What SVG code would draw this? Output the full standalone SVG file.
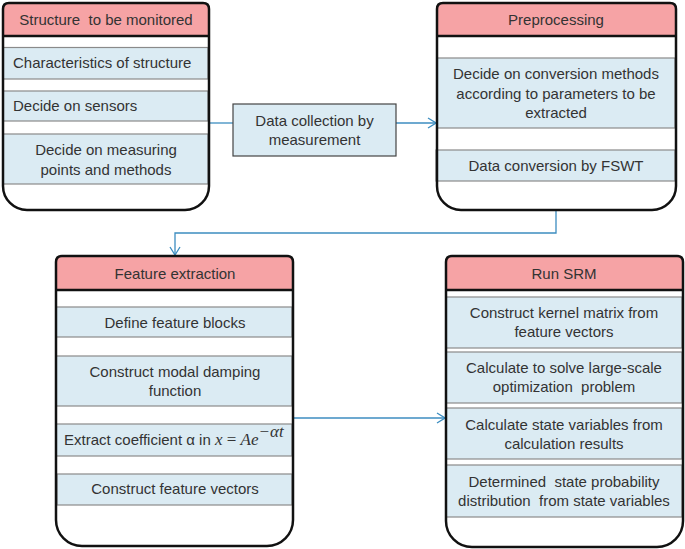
<svg xmlns="http://www.w3.org/2000/svg" width="685" height="549" viewBox="0 0 685 549">
<defs>
<style>
text{font-family:"Liberation Sans",Arial,sans-serif;font-size:15px;fill:#333;}
.c{text-anchor:middle;}
.outline{fill:none;stroke:#111;stroke-width:2.5;}
.bg{fill:#fff;}
.hdr{fill:#F6A3A5;}
.hline{stroke:#111;stroke-width:2.5;}
.row{fill:#DBEBF3;stroke:#8a8a8a;stroke-width:1.2;}
.box{fill:#DBEBF3;stroke:#444;stroke-width:1.2;}
.conn{fill:none;stroke:#3C8DC0;stroke-width:1.3;}
.math{font-family:"Liberation Serif","Times New Roman",serif;font-style:italic;font-size:17px;}
</style>
<marker id="arr" markerWidth="10" markerHeight="12" refX="9" refY="6" orient="auto" markerUnits="userSpaceOnUse">
<path d="M1,1 L9,6 L1,11" fill="none" stroke="#3C8DC0" stroke-width="1.3"/>
</marker>
</defs>

<g id="connectors">
<path class="conn" d="M209,123 H233"/>
<path class="conn" d="M396,123 H436" marker-end="url(#arr)"/>
<path class="conn" d="M556,210 V233 H175 V255" marker-end="url(#arr)"/>
<path class="conn" d="M293,418 H445" marker-end="url(#arr)"/>
</g>

<g id="node-structure">
<path class="bg" d="M3,9 Q3,3 9,3 H203 Q209,3 209,9 V186 A24,24 0 0 1 185,210 H27 A24,24 0 0 1 3,186 Z"/>
<path class="hdr" d="M3,36 V9 Q3,3 9,3 H203 Q209,3 209,9 V36 Z"/>
<line class="hline" x1="3" y1="36" x2="209" y2="36"/>
<rect class="row" x="3" y="47.5" width="205" height="31.5"/>
<rect class="row" x="3" y="91" width="205" height="30"/>
<rect class="row" x="3" y="134" width="205" height="50"/>
<path class="outline" d="M3,9 Q3,3 9,3 H203 Q209,3 209,9 V186 A24,24 0 0 1 185,210 H27 A24,24 0 0 1 3,186 Z"/>
<text class="c" x="106" y="25" xml:space="preserve">Structure  to be monitored</text>
<text x="13" y="68">Characteristics of structure</text>
<text x="13" y="111">Decide on sensors</text>
<text class="c" x="106" y="155">Decide on measuring</text>
<text class="c" x="106" y="175">points and methods</text>
</g>

<g id="node-datacollection">
<rect class="box" x="233" y="104" width="163" height="52"/>
<text class="c" x="314.5" y="126">Data collection by</text>
<text class="c" x="314.5" y="145">measurement</text>
</g>

<g id="node-preprocessing">
<path class="bg" d="M437,9 Q437,3 443,3 H670 Q676,3 676,9 V186 A24,24 0 0 1 652,210 H461 A24,24 0 0 1 437,186 Z"/>
<path class="hdr" d="M437,36 V9 Q437,3 443,3 H670 Q676,3 676,9 V36 Z"/>
<line class="hline" x1="437" y1="36" x2="676" y2="36"/>
<rect class="row" x="437" y="58" width="238" height="70"/>
<rect class="row" x="436" y="150" width="239" height="31"/>
<path class="outline" d="M437,9 Q437,3 443,3 H670 Q676,3 676,9 V186 A24,24 0 0 1 652,210 H461 A24,24 0 0 1 437,186 Z"/>
<text class="c" x="556" y="25">Preprocessing</text>
<text class="c" x="556" y="79">Decide on conversion methods</text>
<text class="c" x="556" y="99">according to parameters to be</text>
<text class="c" x="556" y="118">extracted</text>
<text class="c" x="556" y="171">Data conversion by FSWT</text>
</g>

<g id="node-feature">
<path class="bg" d="M56,262 Q56,256 62,256 H287 Q293,256 293,262 V520 A26,26 0 0 1 267,546 H82 A26,26 0 0 1 56,520 Z"/>
<path class="hdr" d="M56,290 V262 Q56,256 62,256 H287 Q293,256 293,262 V290 Z"/>
<line class="hline" x1="56" y1="290" x2="293" y2="290"/>
<rect class="row" x="56" y="307" width="236" height="30"/>
<rect class="row" x="56" y="356" width="236" height="50"/>
<rect class="row" x="56" y="424" width="236" height="32"/>
<rect class="row" x="57" y="474" width="235" height="31"/>
<path class="outline" d="M56,262 Q56,256 62,256 H287 Q293,256 293,262 V520 A26,26 0 0 1 267,546 H82 A26,26 0 0 1 56,520 Z"/>
<text class="c" x="175" y="279">Feature extraction</text>
<text class="c" x="175" y="328">Define feature blocks</text>
<text class="c" x="175" y="377">Construct modal damping</text>
<text class="c" x="175" y="396">function</text>
<text x="64" y="445">Extract coefficient α in <tspan class="math">x</tspan><tspan font-family="Liberation Serif,serif" font-size="17px"> = </tspan><tspan class="math">Ae</tspan><tspan class="math" font-size="10px" dy="-8">−αt</tspan></text>
<text class="c" x="175" y="494">Construct feature vectors</text>
</g>

<g id="node-srm">
<path class="bg" d="M446,262 Q446,256 452,256 H677 Q683,256 683,262 V521 A26,26 0 0 1 657,547 H472 A26,26 0 0 1 446,521 Z"/>
<path class="hdr" d="M446,290 V262 Q446,256 452,256 H677 Q683,256 683,262 V290 Z"/>
<line class="hline" x1="446" y1="290" x2="683" y2="290"/>
<rect class="row" x="446" y="297" width="236" height="51"/>
<rect class="row" x="446" y="352" width="236" height="51"/>
<rect class="row" x="446" y="408" width="236" height="51"/>
<rect class="row" x="446" y="465" width="236" height="52"/>
<path class="outline" d="M446,262 Q446,256 452,256 H677 Q683,256 683,262 V521 A26,26 0 0 1 657,547 H472 A26,26 0 0 1 446,521 Z"/>
<text class="c" x="564" y="279">Run SRM</text>
<text class="c" x="564" y="318">Construct kernel matrix from</text>
<text class="c" x="564" y="337">feature vectors</text>
<text class="c" x="564" y="373">Calculate to solve large-scale</text>
<text class="c" x="564" y="392" xml:space="preserve">optimization  problem</text>
<text class="c" x="564" y="430">Calculate state variables from</text>
<text class="c" x="564" y="449">calculation results</text>
<text class="c" x="564" y="487" xml:space="preserve">Determined  state probability</text>
<text class="c" x="564" y="506" xml:space="preserve">distribution  from state variables</text>
</g>
</svg>
